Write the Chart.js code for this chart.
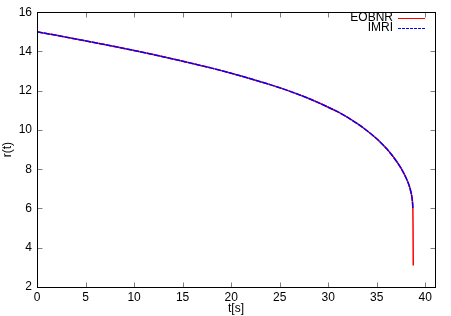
<!DOCTYPE html>
<html><head><meta charset="utf-8">
<script src="https://cdn.jsdelivr.net/npm/chart.js@4.4.1/dist/chart.umd.min.js"></script>
<style>html,body{margin:0;padding:0;background:#fff}#wrap{width:451px;height:316px}</style>
</head><body><div id="wrap"><canvas id="c" width="451" height="316"></canvas></div>
<script>
const seriesNames = ['EOBNR', 'IMRI'];
const tIMRI  = [0, 2, 4, 6, 8, 10, 12, 14, 16, 18, 20, 22, 24, 26, 28, 30, 31, 32, 33, 34, 35, 35.5, 36, 36.5, 37, 37.5, 38, 38.3, 38.5, 38.6, 38.66, 38.72];
const rIMRI  = [15.0, 14.82, 14.635, 14.445, 14.25, 14.05, 13.84, 13.62, 13.39, 13.15, 12.89, 12.61, 12.31, 11.98, 11.6, 11.16, 10.92, 10.64, 10.32, 9.96, 9.55, 9.31, 9.05, 8.76, 8.43, 8.05, 7.58, 7.22, 6.88, 6.64, 6.42, 6.0];
const tEOBNR = [0, 2, 4, 6, 8, 10, 12, 14, 16, 18, 20, 22, 24, 26, 28, 30, 31, 32, 33, 34, 35, 35.5, 36, 36.5, 37, 37.5, 38, 38.3, 38.5, 38.6, 38.66, 38.72, 38.74, 38.76];
const rEOBNR = [15.0, 14.82, 14.635, 14.445, 14.25, 14.05, 13.84, 13.62, 13.39, 13.15, 12.89, 12.61, 12.31, 11.98, 11.6, 11.16, 10.92, 10.64, 10.32, 9.96, 9.55, 9.31, 9.05, 8.76, 8.43, 8.05, 7.58, 7.22, 6.88, 6.64, 6.42, 6.0, 5.0, 3.1];
const xTicks = [0, 5, 10, 15, 20, 25, 30, 35, 40];
const yTicks = [2, 4, 6, 8, 10, 12, 14, 16];
const xTitle = 't[s]';
const yTitle = 'r(t)';

const FONT = 'Liberation Sans, Arial, Helvetica, sans-serif';
const toPts = (xs, ys) => xs.map((v, i) => ({x: v, y: ys[i]}));

const framePlugin = {
  id: 'frame',
  afterDraw(chart) {
    const {ctx, chartArea: a, scales: {x, y}} = chart;
    const L = Math.round(a.left) + 0.5, R = Math.round(a.right) + 0.5;
    const T = Math.round(a.top) + 0.5, B = Math.round(a.bottom) + 0.5;
    ctx.save();
    ctx.lineWidth = 1;
    ctx.strokeStyle = '#808080';
    ctx.beginPath();
    xTicks.forEach(v => {
      const px = Math.round(x.getPixelForValue(v)) + 0.5;
      ctx.moveTo(px, B); ctx.lineTo(px, B - 5);
      ctx.moveTo(px, T); ctx.lineTo(px, T + 5);
    });
    yTicks.forEach(v => {
      const py = Math.round(y.getPixelForValue(v)) + 0.5;
      ctx.moveTo(L, py); ctx.lineTo(L + 5, py);
      ctx.moveTo(R, py); ctx.lineTo(R - 5, py);
    });
    ctx.stroke();
    ctx.strokeStyle = '#000';
    ctx.strokeRect(L, T, R - L, B - T);
    // legend
    const colors = ['#ff0000', '#0000ff'];
    const dashes = [[], [3, 1]];
    ctx.font = '12px ' + FONT;
    ctx.textAlign = 'right';
    ctx.textBaseline = 'middle';
    [18, 28].forEach((yy, i) => {
      ctx.fillStyle = '#000';
      ctx.fillText(seriesNames[i], 393, yy);
      ctx.strokeStyle = colors[i];
      ctx.lineWidth = 1;
      ctx.setLineDash(dashes[i]);
      ctx.beginPath();
      ctx.moveTo(398, yy + 0.5); ctx.lineTo(425, yy + 0.5);
      ctx.stroke();
      ctx.setLineDash([]);
    });
    ctx.restore();
  }
};

new Chart(document.getElementById('c'), {
  type: 'scatter',
  data: {
    datasets: [
      {label: seriesNames[0], data: toPts(tEOBNR, rEOBNR), showLine: true, borderColor: '#ff0000', borderWidth: 1.5, pointRadius: 0, cubicInterpolationMode: 'monotone', order: 1},
      {label: seriesNames[1], data: toPts(tIMRI, rIMRI), showLine: true, borderColor: '#0000ff', borderWidth: 1.5, borderDash: [6, 1], pointRadius: 0, cubicInterpolationMode: 'monotone', order: 0}
    ]
  },
  options: {
    responsive: false,
    animation: false,
    devicePixelRatio: 1,
    layout: {padding: {left: 0, right: 16, top: 10, bottom: 0}},
    plugins: {legend: {display: false}, tooltip: {enabled: false}},
    scales: {
      x: {
        type: 'linear', min: 0, max: 41,
        grid: {display: false, drawTicks: false},
        border: {display: false},
        afterBuildTicks: s => { s.ticks = xTicks.map(v => ({value: v})); },
        afterFit: s => { s.height = 29; },
        ticks: {color: '#000', font: {family: FONT, size: 12}, padding: 3, maxRotation: 0, autoSkip: false},
        title: {display: true, text: xTitle, color: '#000', font: {family: FONT, size: 12}, padding: 0}
      },
      y: {
        type: 'linear', min: 2, max: 16,
        grid: {display: false, drawTicks: false},
        border: {display: false},
        afterBuildTicks: s => { s.ticks = yTicks.map(v => ({value: v})); },
        afterFit: s => { s.width = 37; },
        ticks: {color: '#000', font: {family: FONT, size: 12}, padding: 5, autoSkip: false},
        title: {display: true, text: yTitle, color: '#000', font: {family: FONT, size: 12}, padding: 0}
      }
    }
  },
  plugins: [framePlugin]
});
</script></body></html>
